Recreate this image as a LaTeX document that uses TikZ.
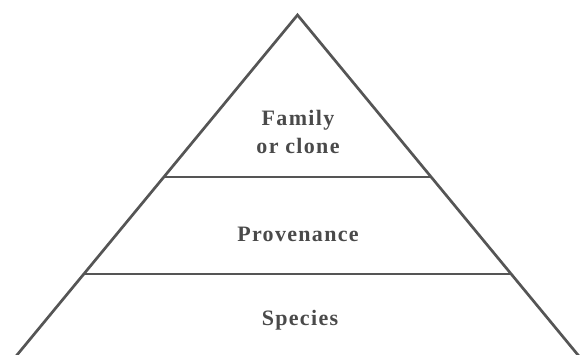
\documentclass[tikz,border=0pt]{standalone}
\usepackage{fontspec}
\usetikzlibrary{calc}
\newfontfamily\lblfont{Liberation Serif}[LetterSpace=6]
\definecolor{ink}{HTML}{555555}
\definecolor{txt}{HTML}{4A4A4A}
\tikzset{
  side/.style={draw=ink, line width=2.7pt, line join=miter},
  tier/.style={draw=ink, line width=2pt},
  lbl/.style={font=\lblfont\bfseries\fontsize{22}{28}\selectfont, text=txt, inner sep=0pt, anchor=base}
}
\begin{document}
\begin{tikzpicture}[x=1pt,y=-1pt]
\useasboundingbox (0,0) rectangle (583,355);
\fill[white] (0,0) rectangle (583,355);
\begin{scope}
\clip (0,0) rectangle (583,355);
\coordinate (apex) at (297.5,15);
\coordinate (left) at (17,355);
\coordinate (right) at (578,355);
\coordinate (l1) at ($(apex)!0.475!(left)$);
\coordinate (r1) at ($(apex)!0.475!(right)$);
\coordinate (l2) at ($(apex)!0.762!(left)$);
\coordinate (r2) at ($(apex)!0.762!(right)$);
\draw[tier] (l1) -- (r1);
\draw[tier] (l2) -- (r2);
\draw[side] ($(apex)!1.03!(left)$) -- (apex) -- ($(apex)!1.03!(right)$);
\end{scope}
\node[lbl] (fam) at (298,126) {Family};
\node[lbl] (clone) at (298,154) {or clone};
\node[lbl] (prov) at (298,241) {Provenance};
\node[lbl] (spec) at (300,325) {Species};
\end{tikzpicture}
\end{document}
